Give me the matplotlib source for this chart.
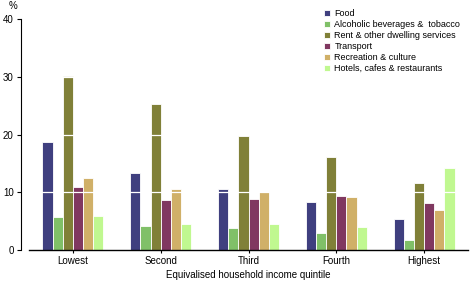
import matplotlib
matplotlib.use("Agg")
import matplotlib.pyplot as plt
import numpy as np

categories = ["Lowest", "Second", "Third", "Fourth", "Highest"]
series_names = ["Food", "Alcoholic beverages &  tobacco", "Rent & other dwelling services",
                "Transport", "Recreation & culture", "Hotels, cafes & restaurants"]
food = [18.7, 13.4, 10.5, 8.4, 5.4]
alcohol = [5.8, 4.2, 3.8, 3.0, 1.8]
rent = [30.2, 25.3, 19.7, 16.2, 11.7]
transport = [11.0, 8.6, 8.9, 9.4, 8.2]
recreation = [12.4, 10.5, 10.1, 9.2, 7.0]
hotels = [5.9, 4.5, 4.5, 4.0, 14.3]
colors = ["#3f3f7f", "#80c068", "#808038", "#803860", "#d0b068", "#c0f890"]

values = [food, alcohol, rent, transport, recreation, hotels]

plt.rcParams['font.family'] = ['Liberation Sans', 'DejaVu Sans']
fig = plt.figure(figsize=(4.72, 2.83), dpi=100)
ax = fig.add_axes([29/472, 1-250/283, (468-29)/472, (250-19.3)/283])

x = np.arange(len(categories))
pitch = 0.116
for i, (name, vals, c) in enumerate(zip(series_names, values, colors)):
    ax.bar(x + (i - 2.5) * pitch, vals, width=pitch, color=c, edgecolor="white",
           linewidth=0.6, label=name, zorder=2)

for yv in [10, 20, 30]:
    ax.axhline(yv, color="white", linewidth=0.9, zorder=3)

ax.set_xlim(-0.5, 4.5)
ax.set_ylim(0, 40)
ax.set_yticks([0, 10, 20, 30, 40])
ax.set_xticks(x)
ax.set_xticklabels(categories)
ax.tick_params(axis='both', labelsize=7, length=3, width=0.8, pad=2)
ax.tick_params(axis='x', length=2.5)
for s in ["top", "right"]:
    ax.spines[s].set_visible(False)
ax.spines['left'].set_position(('outward', 6))
ax.spines['left'].set_linewidth(0.8)
ax.spines['bottom'].set_linewidth(1.0)
ax.set_xlabel("Equivalised household income quintile", fontsize=7, labelpad=3)
fig.text(13/472, 1-6/283, "%", fontsize=7, ha='center', va='center')

leg = ax.legend(loc='upper left', bbox_to_anchor=((320-29)/439, 1.06), frameon=False,
                fontsize=6.5, handlelength=0.7, handleheight=0.7, handletextpad=0.5,
                labelspacing=0.22, borderaxespad=0)

fig.savefig("out.png", dpi=100)
